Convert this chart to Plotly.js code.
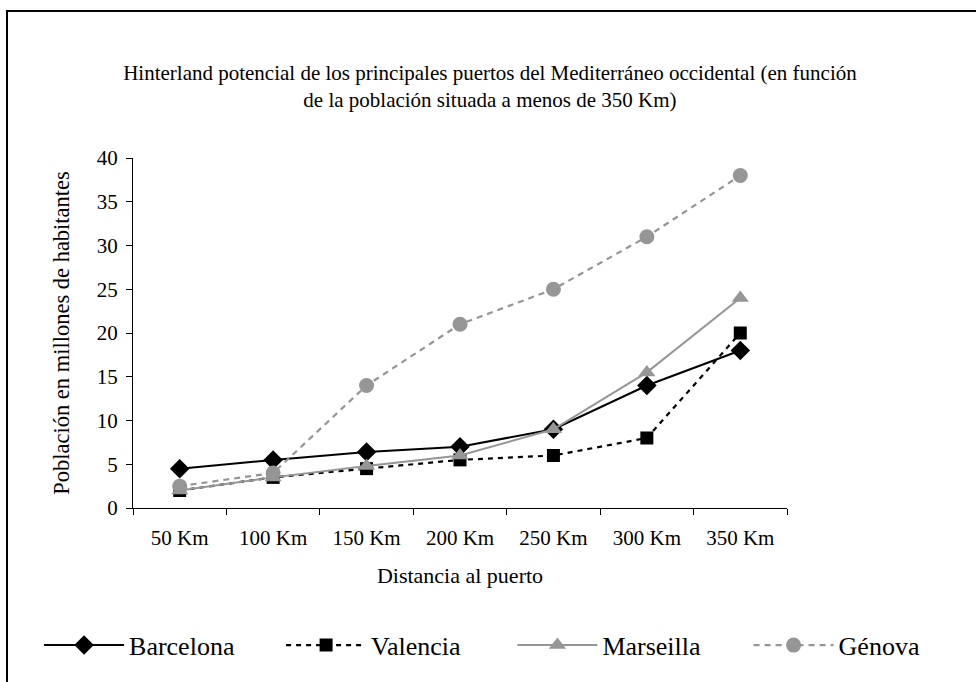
<!DOCTYPE html>
<html>
<head>
<meta charset="utf-8">
<script src="https://cdn.plot.ly/plotly-3.0.1.min.js"></script>
<style>
  html, body { margin: 0; padding: 0; background: #fff; }
  #chart { width: 976px; height: 682px; position: relative; }
  #frame { position: absolute; left: 6px; top: 10px; width: 980px; height: 700px;
           border-left: 2px solid #000; border-top: 2px solid #000; pointer-events: none; }
</style>
</head>
<body>
<div id="chart"></div>
<div id="frame"></div>
<script>
const categories = ["50 Km", "100 Km", "150 Km", "200 Km", "250 Km", "300 Km", "350 Km"];
const barcelona = [4.5, 5.5, 6.4, 7, 9, 14, 18];
const valencia  = [2, 3.5, 4.5, 5.5, 6, 8, 20];
const marseilla = [2, 3.5, 4.8, 6, 9, 15.5, 24];
const genova    = [2.5, 4, 14, 21, 25, 31, 38];

const FONT = "Liberation Serif";
const GRAY = "#969696";

const traces = [
  { name: "Barcelona", legend: "legend", x: categories, y: barcelona, mode: "lines+markers",
    line: { color: "#000", width: 2 }, marker: { symbol: "diamond", size: 15, color: "#000" } },
  { name: "Valencia", legend: "legend2", x: categories, y: valencia, mode: "lines+markers",
    line: { color: "#000", width: 2.2, dash: "5px,5px" }, marker: { symbol: "square", size: 13, color: "#000" } },
  { name: "Marseilla", legend: "legend3", x: categories, y: marseilla, mode: "lines+markers",
    line: { color: GRAY, width: 2 }, marker: { symbol: "triangle-up", size: 15, color: GRAY } },
  { name: "Génova", legend: "legend4", x: categories, y: genova, mode: "lines+markers",
    line: { color: GRAY, width: 2.2, dash: "6px,5px" }, marker: { symbol: "circle", size: 15, color: GRAY } }
];

function legendAt(xFrac) {
  return {
    orientation: "h", xref: "container", x: xFrac, xanchor: "left",
    yref: "container", y: 0.054, yanchor: "middle",
    font: { family: FONT, size: 26, color: "#000" },
    itemwidth: 80, bgcolor: "rgba(0,0,0,0)"
  };
}

const layout = {
  width: 976, height: 682,
  margin: { l: 133, r: 189, t: 158, b: 174 },
  paper_bgcolor: "#fff", plot_bgcolor: "#fff",
  font: { family: FONT, size: 21, color: "#000" },
  title: {
    text: "Hinterland potencial de los principales puertos del Mediterráneo occidental (en función<br>de la población situada a menos de 350 Km)",
    x: 0.502, xref: "container", xanchor: "center",
    y: 0.883, yref: "container", yanchor: "middle",
    font: { family: FONT, size: 21, color: "#000" }
  },
  xaxis: {
    type: "category", range: [-0.5, 6.5],
    showline: true, linecolor: "#000", linewidth: 1,
    ticks: "outside", tickson: "boundaries", ticklen: 6, tickcolor: "#000",
    ticklabelstandoff: 11,
    showgrid: false, zeroline: false, automargin: false,
    tickfont: { family: FONT, size: 21 },
    title: { text: "Distancia al puerto", font: { family: FONT, size: 22 }, standoff: 18 }
  },
  yaxis: {
    range: [0, 40], dtick: 5, tick0: 0,
    showline: true, linecolor: "#000", linewidth: 1,
    ticks: "outside", ticklen: 6, tickcolor: "#000",
    ticklabelstandoff: 4,
    showgrid: false, zeroline: false, automargin: false,
    tickfont: { family: FONT, size: 21 },
    title: { text: "Población en millones de habitantes", font: { family: FONT, size: 22.5 }, standoff: 20 }
  },
  legend: legendAt(0.040),
  legend2: legendAt(0.288),
  legend3: legendAt(0.525),
  legend4: legendAt(0.767),
  showlegend: true
};

Plotly.newPlot("chart", traces, layout, { displayModeBar: false, staticPlot: true });
</script>
</body>
</html>
